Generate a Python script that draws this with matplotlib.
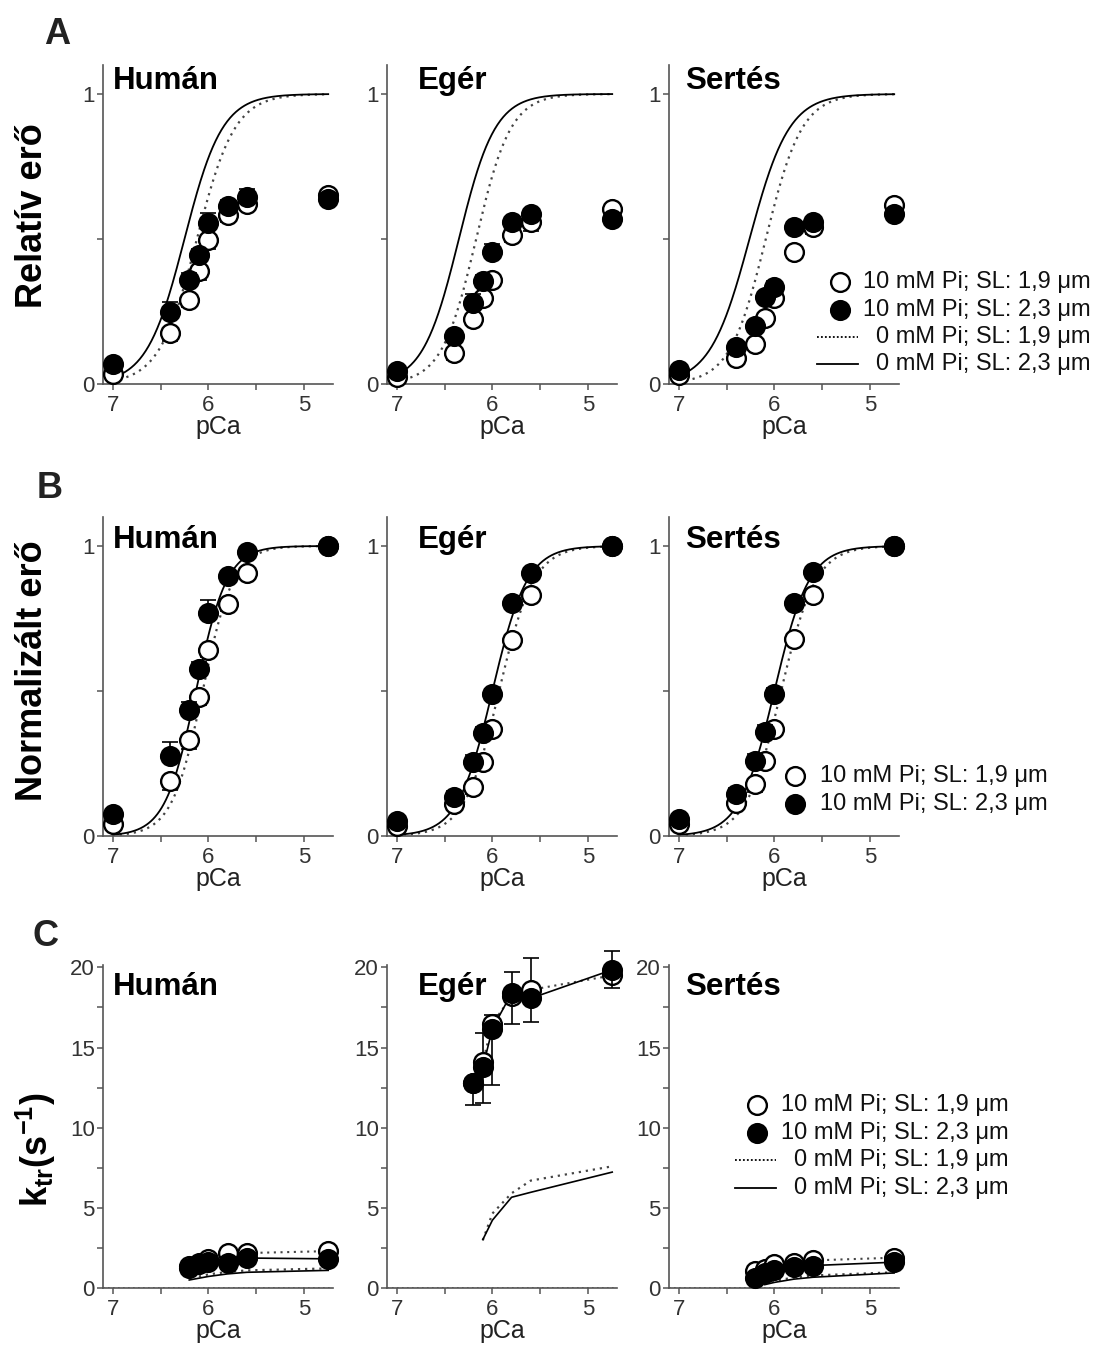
import numpy as np
import matplotlib.pyplot as plt
from matplotlib.lines import Line2D

plt.rcParams['font.family'] = ['Liberation Sans', 'DejaVu Sans']
plt.rcParams['mathtext.fontset'] = 'custom'
plt.rcParams['mathtext.rm'] = 'Liberation Sans'
plt.rcParams['mathtext.bf'] = 'Liberation Sans:bold'

# ---- data ----
species = ['Humán', 'Egér', 'Sertés']

pca = [7.0, 6.4, 6.2, 6.1, 6.0, 5.8, 5.6, 4.75]
pca_c = [6.2, 6.1, 6.0, 5.8, 5.6, 4.75]

# A: relative force, 10 mM Pi (open = SL 1.9, filled = SL 2.3)
rel_hum_19 = [0.035, 0.175, 0.29, 0.39, 0.496, 0.582, 0.62, 0.652]
rel_hum_23 = [0.069, 0.248, 0.357, 0.444, 0.556, 0.614, 0.646, 0.637]
rel_eg_19 = [0.025, 0.106, 0.224, 0.297, 0.36, 0.513, 0.557, 0.603]
rel_eg_23 = [0.045, 0.164, 0.28, 0.355, 0.455, 0.557, 0.586, 0.569]
rel_ser_19 = [0.031, 0.089, 0.138, 0.228, 0.297, 0.455, 0.542, 0.618]
rel_ser_23 = [0.049, 0.126, 0.199, 0.30, 0.334, 0.542, 0.557, 0.586]
rel_hum_19_err = [0.01, 0.025, 0.025, 0.03, 0.03, 0.025, 0.02, 0.01]
rel_hum_23_err = [0.0, 0.035, 0.025, 0.02, 0.035, 0.02, 0.025, 0.01]
rel_eg_19_err = [0.01, 0.023, 0.02, 0.02, 0.023, 0.025, 0.03, 0.01]
rel_eg_23_err = [0.01, 0.015, 0.03, 0.02, 0.027, 0.015, 0.015, 0.01]
rel_ser_19_err = [0.01, 0.02, 0.02, 0.02, 0.025, 0.02, 0.025, 0.01]
rel_ser_23_err = [0.01, 0.015, 0.015, 0.015, 0.02, 0.015, 0.015, 0.01]

# B: normalised force
norm_hum_19 = [0.04, 0.188, 0.331, 0.479, 0.642, 0.80, 0.908, 1.0]
norm_hum_23 = [0.075, 0.277, 0.435, 0.577, 0.769, 0.896, 0.98, 1.0]
norm_eg_19 = [0.035, 0.11, 0.17, 0.254, 0.37, 0.676, 0.832, 1.0]
norm_eg_23 = [0.052, 0.135, 0.254, 0.355, 0.488, 0.803, 0.908, 1.0]
norm_ser_19 = [0.04, 0.113, 0.178, 0.259, 0.37, 0.678, 0.83, 1.0]
norm_ser_23 = [0.057, 0.144, 0.259, 0.359, 0.489, 0.805, 0.91, 1.0]
norm_hum_19_err = [0.01, 0.03, 0.031, 0.027, 0.025, 0.023, 0.02, 0.0]
norm_hum_23_err = [0.01, 0.046, 0.027, 0.023, 0.044, 0.015, 0.01, 0.0]
norm_eg_19_err = [0.01, 0.02, 0.025, 0.02, 0.025, 0.02, 0.02, 0.0]
norm_eg_23_err = [0.01, 0.02, 0.025, 0.02, 0.02, 0.015, 0.015, 0.0]
norm_ser_19_err = [0.01, 0.02, 0.025, 0.02, 0.025, 0.02, 0.02, 0.0]
norm_ser_23_err = [0.01, 0.02, 0.025, 0.025, 0.02, 0.015, 0.015, 0.0]

# Hill fits of the 0 mM Pi curves: (pCa50, nH)
fit_rel_19 = [(6.12, 2.2), (6.17, 2.4), (6.09, 2.3)]
fit_rel_23 = [(6.25, 2.2), (6.35, 2.3), (6.26, 2.1)]
fit_norm_19 = [(6.06, 2.7), (5.93, 2.4), (5.93, 2.4)]
fit_norm_23 = [(6.13, 2.7), (6.00, 2.4), (6.00, 2.4)]

# C: ktr (1/s), 10 mM Pi
ktr_hum_19 = [1.4, 1.55, 1.82, 2.18, 2.18, 2.3]
ktr_hum_23 = [1.26, 1.47, 1.61, 1.55, 1.87, 1.82]
ktr_eg_19 = [12.8, 14.1, 16.5, 18.2, 18.6, 19.5]
ktr_eg_23 = [12.8, 13.77, 16.18, 18.39, 18.07, 19.85]
ktr_ser_19 = [1.05, 1.2, 1.47, 1.55, 1.72, 1.89]
ktr_ser_23 = [0.63, 0.92, 1.13, 1.34, 1.40, 1.61]
ktr_hum_19_err = [0.1, 0.1, 0.1, 0.15, 0.15, 0.15]
ktr_hum_23_err = [0.1, 0.1, 0.1, 0.15, 0.15, 0.15]
ktr_eg_19_err = [0.3, 1.8, 0.5, 1.5, 2.0, 1.55]
ktr_eg_23_err = [1.4, 2.2, 3.5, 1.9, 1.5, 1.15]
ktr_ser_19_err = [0.1, 0.1, 0.1, 0.1, 0.1, 0.1]
ktr_ser_23_err = [0.1, 0.1, 0.1, 0.1, 0.1, 0.1]

# C: ktr, 0 mM Pi
ktr0_pca = [6.1, 6.0, 5.8, 5.6, 4.75]
ktr0_hum_pca_23 = [6.2, 6.0, 5.8, 5.6, 4.75]
ktr0_hum_19 = [0.72, 0.85, 1.0, 1.1, 1.22]
ktr0_hum_23 = [0.5, 0.72, 0.88, 0.98, 1.1]
ktr0_eg_19 = [2.98, 4.65, 5.91, 6.7, 7.59]
ktr0_eg_23 = [3.02, 4.23, 5.66, 5.97, 7.23]
ktr0_ser_19 = [0.3, 0.45, 0.65, 0.78, 0.98]
ktr0_ser_23 = [0.21, 0.35, 0.55, 0.67, 0.94]

legend_labels = ['10 mM Pi; SL: 1,9 \u03bcm', '10 mM Pi; SL: 2,3 \u03bcm',
                 '0 mM Pi; SL: 1,9 \u03bcm', '0 mM Pi; SL: 2,3 \u03bcm']

# ---- layout (pixels of the 1096x1346 picture) ----
W, H = 1096, 1346
fig = plt.figure(figsize=(W / 100, H / 100), dpi=100)

col_left = [103, 387, 669]
rows_px = [(65, 384), (517, 836), (965, 1288)]
title_x = [0.045, 0.135, 0.07]
title_y = [0.925, 0.903, 0.907]

DOT = (0, (1, 2.2))
MS = 13.5


def add_axes(left, top, bottom):
    return fig.add_axes([left / W, 1 - bottom / H, 230 / W, (bottom - top) / H])


def style(ax, ylim, yticks, yticklabels, yminor):
    ax.set_xlim(7.1, 4.7)
    ax.set_ylim(*ylim)
    for s in ['top', 'right']:
        ax.spines[s].set_visible(False)
    for s in ['left', 'bottom']:
        ax.spines[s].set_color('#555555')
        ax.spines[s].set_linewidth(1.2)
    ax.set_xticks([7, 6, 5])
    ax.set_xticklabels(['7', '6', '5'])
    ax.set_xticks([6.5, 5.5], minor=True)
    ax.set_yticks(yticks)
    ax.set_yticklabels(yticklabels)
    ax.set_yticks(yminor, minor=True)
    ax.tick_params(which='both', direction='out', length=4, width=1.1,
                   color='#555555', labelsize=16, labelcolor='#333333', pad=2)
    ax.tick_params(axis='x', pad=4)
    ax.set_xlabel('pCa', fontsize=18, color='#222222', labelpad=-1)


def points(ax, x, y19, e19, y23, e23, up23=True):
    z = [0] * len(x)
    if up23:
        err19, err23 = [e19, z], [z, e23]
    else:
        err19, err23 = [z, e19], [e23, z]
    ax.errorbar(x, y19, yerr=err19, fmt='none', ecolor='black', elinewidth=1.2,
                capsize=6, capthick=1.2, clip_on=False, zorder=3)
    ax.plot(x, y19, 'o', ms=MS, mfc='white', mec='black', mew=1.7,
            clip_on=False, zorder=4)
    ax.errorbar(x, y23, yerr=err23, fmt='none', ecolor='black', elinewidth=1.2,
                capsize=6, capthick=1.2, clip_on=False, zorder=5)
    ax.plot(x, y23, 'o', ms=MS, mfc='black', mec='black', mew=1.7,
            clip_on=False, zorder=6)


def hill(ax, p19, p23):
    x = np.linspace(7.0, 4.75, 300)
    ax.plot(x, 1 / (1 + 10 ** (p19[1] * (x - p19[0]))), color='#444444',
            lw=1.6, ls=DOT, zorder=2)
    ax.plot(x, 1 / (1 + 10 ** (p23[1] * (x - p23[0]))), color='black',
            lw=1.3, zorder=2)


def title(ax, i, r):
    ax.text(title_x[i], title_y[r], species[i], transform=ax.transAxes,
            fontsize=22.5, fontweight='bold', va='baseline', ha='left')


rel = [(rel_hum_19, rel_hum_19_err, rel_hum_23, rel_hum_23_err),
       (rel_eg_19, rel_eg_19_err, rel_eg_23, rel_eg_23_err),
       (rel_ser_19, rel_ser_19_err, rel_ser_23, rel_ser_23_err)]
norm = [(norm_hum_19, norm_hum_19_err, norm_hum_23, norm_hum_23_err),
        (norm_eg_19, norm_eg_19_err, norm_eg_23, norm_eg_23_err),
        (norm_ser_19, norm_ser_19_err, norm_ser_23, norm_ser_23_err)]
ktr = [(ktr_hum_19, ktr_hum_19_err, ktr_hum_23, ktr_hum_23_err),
       (ktr_eg_19, ktr_eg_19_err, ktr_eg_23, ktr_eg_23_err),
       (ktr_ser_19, ktr_ser_19_err, ktr_ser_23, ktr_ser_23_err)]
ktr0 = [(ktr0_pca, ktr0_hum_19, ktr0_hum_pca_23, ktr0_hum_23),
        (ktr0_pca, ktr0_eg_19, ktr0_pca, ktr0_eg_23),
        (ktr0_pca, ktr0_ser_19, ktr0_pca, ktr0_ser_23)]

for i in range(3):
    # row A
    ax = add_axes(col_left[i], *rows_px[0])
    style(ax, (0, 1.1), [0, 1], ['0', '1'], [0.5])
    hill(ax, fit_rel_19[i], fit_rel_23[i])
    points(ax, pca, *rel[i])
    title(ax, i, 0)

    # row B
    ax = add_axes(col_left[i], *rows_px[1])
    style(ax, (0, 1.1), [0, 1], ['0', '1'], [0.5])
    hill(ax, fit_norm_19[i], fit_norm_23[i])
    points(ax, pca, *norm[i])
    title(ax, i, 1)

    # row C
    ax = add_axes(col_left[i], *rows_px[2])
    style(ax, (0, 20.15), [0, 5, 10, 15, 20], ['0', '5', '10', '15', '20'],
          [2.5, 7.5, 12.5, 17.5])
    ax.axhline(0, color='#555555', lw=1.2, ls=(0, (1, 2)), zorder=1)
    x19, k19, x23, k23 = ktr0[i]
    ax.plot(x19, k19, color='#444444', lw=1.6, ls=DOT, zorder=2)
    ax.plot(x23, k23, color='black', lw=1.2, zorder=2)
    y19, e19, y23, e23 = ktr[i]
    ax.plot(pca_c, y19, color='#444444', lw=1.5, ls=DOT, zorder=2)
    ax.plot(pca_c, y23, color='black', lw=1.2, zorder=2)
    points(ax, pca_c, y19, e19, y23, e23, up23=False)
    title(ax, i, 2)


# ---- legends (drawn in figure pixels) ----
def legend(x_text, ys, x_mark, x_line, n):
    kinds = ['open', 'filled', 'dotted', 'solid']
    for k in range(n):
        fy = 1 - ys[k] / H
        fig.text(x_text / W, fy, legend_labels[k], fontsize=17, ha='right',
                 va='center', color='#111111')
        if kinds[k] in ('open', 'filled'):
            fc = 'white' if kinds[k] == 'open' else 'black'
            fig.add_artist(Line2D([x_mark / W], [fy], marker='o', ms=MS,
                                  mfc=fc, mec='black', mew=1.7, ls='none',
                                  transform=fig.transFigure))
        else:
            ls = (0, (1, 1.2)) if kinds[k] == 'dotted' else '-'
            fig.add_artist(Line2D([x_line[0] / W, x_line[1] / W], [fy, fy],
                                  color='black', lw=1.3, ls=ls,
                                  transform=fig.transFigure))


legend(1091, [282, 310, 337, 364], 840, (817, 858), 4)
legend(1048, [776, 804], 795, (0, 0), 2)
legend(1009, [1105, 1133, 1160, 1188], 757, (735, 776), 4)

# ---- panel letters and y labels ----
for letter, (lx, ly) in zip('ABC', [(57, 34), (50, 488), (46, 937)]):
    fig.text(lx / W, 1 - ly / H, letter, fontsize=26, fontweight='bold',
             ha='center', va='center', color='#222222')

fig.text(33 / W, 1 - 216 / H, 'Relatív erő', rotation=90, fontsize=26,
         fontweight='bold', ha='center', va='center')
fig.text(33 / W, 1 - 671 / H, 'Normalizált erő', rotation=90, fontsize=26,
         fontweight='bold', ha='center', va='center')
fig.text(36 / W, 1 - 1150 / H, r'k$_\mathbf{tr}$(s$^\mathbf{-1}$)', rotation=90,
         fontsize=26, fontweight='bold', ha='center', va='center')

fig.savefig('out.png', dpi=100)
